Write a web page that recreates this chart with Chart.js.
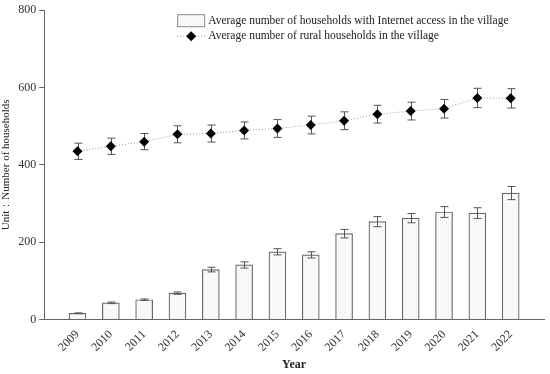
<!DOCTYPE html>
<html>
<head>
<meta charset="utf-8">
<script src="https://cdn.jsdelivr.net/npm/chart.js@4/dist/chart.umd.min.js"></script>
<style>
  html, body { margin: 0; padding: 0; background: #fff; }
  #wrap { width: 550px; height: 374px; }
</style>
</head>
<body>
<div id="wrap"><canvas id="grafico" width="550" height="374"></canvas></div>
<script>
// datos
const years = [2009, 2010, 2011, 2012, 2013, 2014, 2015, 2016, 2017, 2018, 2019, 2020, 2021, 2022];
const internetHouseholds = [16, 43, 51, 68, 129, 141, 175, 167, 222, 253, 262, 278, 275, 327];
const internetErrors = [1, 2, 2, 3, 6, 8, 8, 8, 11, 13, 12, 14, 14, 17];
const ruralHouseholds = [435, 448, 460, 479, 481, 489, 494, 503, 514, 531, 539, 545, 573, 572];
const ruralErrors = [21, 21, 21, 22, 22, 22, 23, 23, 23, 23, 23, 24, 25, 25];
const yTicks = [0, 200, 400, 600, 800];
const legendLabels = [
    'Average number of households with Internet access in the village',
    'Average number of rural households in the village'
];

const serif = "'Liberation Serif', 'Times New Roman', serif";

// patron punteado para las barras
function makePattern() {
    const c = document.createElement('canvas');
    c.width = 4; c.height = 4;
    const g = c.getContext('2d');
    g.fillStyle = '#fbfbfb';
    g.fillRect(0, 0, 4, 4);
    g.fillStyle = '#e6e6e6';
    g.fillRect(0, 0, 1, 1);
    g.fillRect(2, 2, 1, 1);
    return document.getElementById('grafico').getContext('2d').createPattern(c, 'repeat');
}
const barFill = makePattern();

function drawErrors(chart, index) {
    const ds = chart.data.datasets[index];
    if (!ds.errors) return;
    const ctx = chart.ctx;
    const xs = chart.scales.x, ys = chart.scales.y;
    ctx.save();
    ctx.strokeStyle = '#555';
    ctx.lineWidth = 1;
    ds.data.forEach((p, i) => {
        const e = ds.errors[i];
        const x = Math.round(xs.getPixelForValue(p.x)) + 0.5;
        const yt = ys.getPixelForValue(p.y + e);
        const yb = ys.getPixelForValue(p.y - e);
        ctx.beginPath();
        ctx.moveTo(x, yt); ctx.lineTo(x, yb);
        ctx.moveTo(x - 4, yt); ctx.lineTo(x + 4, yt);
        ctx.moveTo(x - 4, yb); ctx.lineTo(x + 4, yb);
        ctx.stroke();
    });
    ctx.restore();
}

const errorBars = {
    id: 'errorBars',
    beforeDatasetDraw(chart, args) {
        if (chart.data.datasets[args.index].type === 'line') drawErrors(chart, args.index);
    },
    afterDatasetDraw(chart, args) {
        if (chart.data.datasets[args.index].type === 'bar') drawErrors(chart, args.index);
    }
};

// leyenda dentro del area del grafico
const insideLegend = {
    id: 'insideLegend',
    afterDraw(chart) {
        const ctx = chart.ctx;
        const a = chart.chartArea;
        const x0 = a.left + 133;
        const y1 = a.top + 10.5;
        const y2 = a.top + 26;
        ctx.save();
        ctx.fillStyle = barFill;
        ctx.fillRect(x0, y1 - 6.5, 28, 13);
        ctx.strokeStyle = '#888';
        ctx.lineWidth = 1;
        ctx.strokeRect(x0 + 0.5, y1 - 6, 27, 12);

        ctx.strokeStyle = '#999';
        ctx.setLineDash([1, 2]);
        ctx.beginPath();
        ctx.moveTo(x0, y2); ctx.lineTo(x0 + 28, y2);
        ctx.stroke();
        ctx.setLineDash([]);
        ctx.fillStyle = '#000';
        ctx.beginPath();
        ctx.moveTo(x0 + 14, y2 - 5); ctx.lineTo(x0 + 19, y2);
        ctx.lineTo(x0 + 14, y2 + 5); ctx.lineTo(x0 + 9, y2);
        ctx.closePath();
        ctx.fill();

        ctx.fillStyle = '#222';
        ctx.font = '11.5px ' + serif;
        ctx.textBaseline = 'middle';
        ctx.fillText(legendLabels[0], x0 + 31, y1);
        ctx.fillText(legendLabels[1], x0 + 31, y2);
        ctx.restore();
    }
};

const context = document.getElementById('grafico').getContext('2d');

new Chart(context, {
    type: 'bar',
    data: {
        datasets: [{
            type: 'bar',
            label: legendLabels[0],
            data: years.map((y, i) => ({ x: y, y: internetHouseholds[i] })),
            errors: internetErrors,
            backgroundColor: barFill,
            borderColor: '#666',
            borderWidth: 1.2,
            barThickness: 17
        }, {
            type: 'line',
            label: legendLabels[1],
            data: years.map((y, i) => ({ x: y, y: ruralHouseholds[i] })),
            errors: ruralErrors,
            borderColor: '#9a9a9a',
            borderWidth: 1,
            borderDash: [1, 2],
            pointStyle: 'rectRot',
            pointRadius: 5,
            pointBackgroundColor: '#000',
            pointBorderColor: '#000',
            pointBorderWidth: 0,
            tension: 0
        }]
    },
    options: {
        responsive: false,
        animation: false,
        layout: { padding: { left: 0, right: 6, top: 9, bottom: 2 } },
        plugins: {
            legend: { display: false },
            tooltip: { enabled: false }
        },
        scales: {
            x: {
                type: 'linear',
                min: 2008,
                max: 2023,
                offset: false,
                afterFit: axis => { axis.paddingRight = 0; axis.paddingLeft = 0; },
                border: { color: '#666', width: 1 },
                grid: { display: false, drawOnChartArea: false, drawTicks: true, tickLength: 5, tickColor: '#666' },
                ticks: {
                    stepSize: 1,
                    autoSkip: false,
                    maxRotation: 45,
                    minRotation: 45,
                    color: '#333',
                    font: { family: serif, size: 12 },
                    callback: v => years.includes(v) ? String(v) : ''
                },
                title: {
                    display: true,
                    text: 'Year',
                    color: '#222',
                    font: { family: serif, size: 12, weight: 'bold' },
                    padding: { top: 0, bottom: 0 }
                }
            },
            y: {
                min: 0,
                max: 800,
                border: { color: '#666', width: 1 },
                grid: { drawOnChartArea: false, drawTicks: true, tickLength: 5, tickColor: '#666' },
                afterBuildTicks: axis => { axis.ticks = yTicks.map(v => ({ value: v })); },
                ticks: {
                    color: '#333',
                    font: { family: serif, size: 12 },
                    padding: 3
                },
                title: {
                    display: true,
                    text: 'Unit：Number of households',
                    color: '#222',
                    font: { family: serif, size: 11 },
                    padding: { top: 0, bottom: 2 }
                }
            }
        }
    },
    plugins: [errorBars, insideLegend]
});
</script>
</body>
</html>
